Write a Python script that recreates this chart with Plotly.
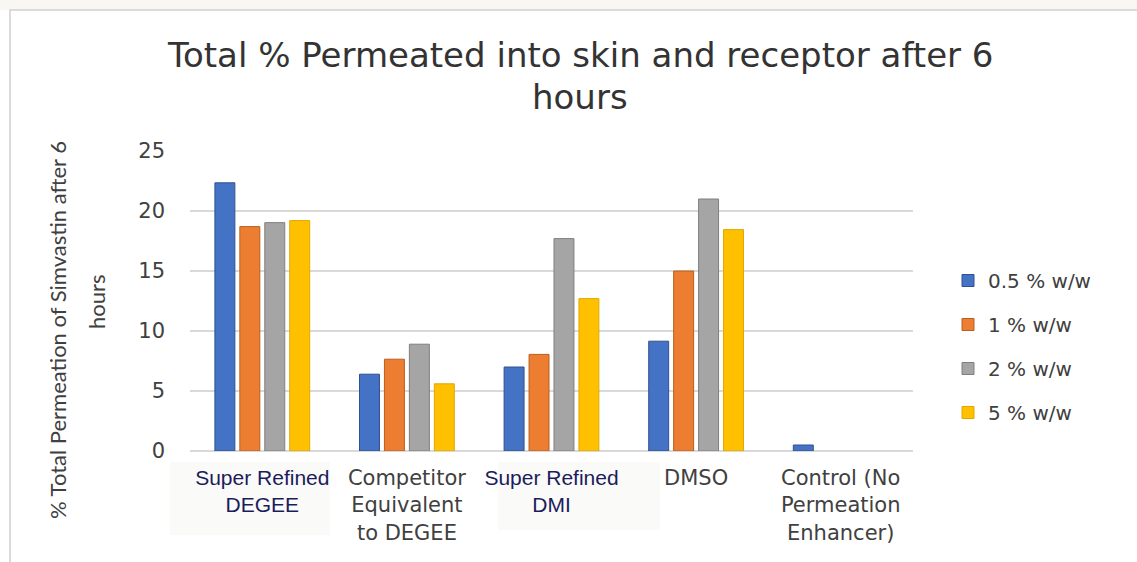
import plotly.graph_objects as go

categories = [
    "<span style='font-family:Liberation Sans;color:#1c1c5c;font-size:21px'>Super Refined<br>DEGEE</span>",
    "Competitor<br>Equivalent<br>to DEGEE",
    "<span style='font-family:Liberation Sans;color:#1c1c5c;font-size:21px'>Super Refined<br>DMI</span>",
    "DMSO",
    "Control (No<br>Permeation<br>Enhancer)",
]
series_names = ["0.5 % w/w", "1 % w/w", "2 % w/w", "5 % w/w"]
vals_05 = [22.35, 6.4, 7.0, 9.15, 0.5]
vals_1 = [18.7, 7.65, 8.05, 15.0, None]
vals_2 = [19.03, 8.9, 17.7, 21.0, None]
vals_5 = [19.2, 5.6, 12.7, 18.45, None]

colors = ["#4472C4", "#ED7D31", "#A5A5A5", "#FFC000"]
edges = ["#2F528F", "#B85F22", "#7F7F7F", "#E0A800"]

W, H = 1137, 562
L, R, T, B = 190, 224, 151, 111
pw, ph = W - L - R, H - T - B

fig = go.Figure()
for i, (name, vals) in enumerate(zip(series_names, [vals_05, vals_1, vals_2, vals_5])):
    fig.add_bar(x=categories, y=vals, name=name, legendgroup=name,
                marker=dict(color=colors[i], line=dict(color=edges[i], width=1)))

# pixel -> paper helpers
px_ = lambda x: (x - L) / pw
py_ = lambda y: (H - B - y) / ph

fig.update_layout(
    width=W, height=H,
    margin=dict(l=L, r=R, t=T, b=B, autoexpand=False),
    plot_bgcolor="white", paper_bgcolor="white",
    barmode="group", bargap=0.31, bargroupgap=0.2,
    font=dict(family="DejaVu Sans", color="#404040"),
    legend=dict(x=px_(948), y=py_(261), xanchor="left", yanchor="top",
                font=dict(family="DejaVu Sans", size=20, color="#404040"),
                tracegroupgap=15, bgcolor="rgba(0,0,0,0)"),
    xaxis=dict(tickfont=dict(family="DejaVu Sans", size=21, color="#404040"),
               showgrid=False, showline=False, ticks="", automargin=False,
               ticklabelstandoff=12),
    yaxis=dict(range=[0, 25], tickvals=[0, 5, 10, 15, 20, 25],
               tickfont=dict(family="DejaVu Sans", size=21, color="#404040"),
               showgrid=True, gridcolor="#d9d9d9", gridwidth=2,
               zeroline=True, zerolinecolor="#d9d9d9", zerolinewidth=2,
               ticks="", ticklabelstandoff=24, automargin=False),
)

fig.add_annotation(
    text="Total % Permeated into skin and receptor after 6",
    xref="paper", yref="paper", x=px_(580), y=py_(55), xanchor="center", yanchor="middle",
    showarrow=False, font=dict(family="DejaVu Sans", size=34, color="#333333"))
fig.add_annotation(
    text="hours",
    xref="paper", yref="paper", x=px_(580), y=py_(97), xanchor="center", yanchor="middle",
    showarrow=False, font=dict(family="DejaVu Sans", size=34, color="#333333"))

fig.add_annotation(
    text="% Total Permeation of Simvastin after 6",
    xref="paper", yref="paper", x=px_(57), y=py_(330), xanchor="center", yanchor="middle",
    textangle=-90, showarrow=False, font=dict(family="Lato", size=22, color="#404040"))
fig.add_annotation(
    text="hours",
    xref="paper", yref="paper", x=px_(96), y=py_(302), xanchor="center", yanchor="middle",
    textangle=-90, showarrow=False, font=dict(family="Lato", size=22, color="#404040"))

# subtle background boxes behind two x labels
for x0, x1, y1 in [(170, 330, 535), (498, 660, 530)]:
    fig.add_shape(type="rect", xref="paper", yref="paper", x0=px_(x0), x1=px_(x1),
                  y0=py_(y1), y1=py_(462), line=dict(width=0), fillcolor="#fafaf8", layer="below")

# outer frame of the pasted chart
fig.add_shape(type="rect", xref="paper", yref="paper", x0=px_(0), x1=px_(W), y0=py_(10), y1=py_(0),
              line=dict(width=0), fillcolor="#f8f7f4", layer="below")
fig.add_shape(type="rect", xref="paper", yref="paper", x0=px_(10), x1=px_(W + 5), y0=py_(H + 5), y1=py_(10),
              line=dict(width=1.5, color="#cfcfcf"), fillcolor="rgba(0,0,0,0)", layer="below")

# drop the default page margin so the figure sits at (0, 0)
fig.write_html("out.html", config={"displayModeBar": False},
               post_script="document.body.style.margin='0';")
